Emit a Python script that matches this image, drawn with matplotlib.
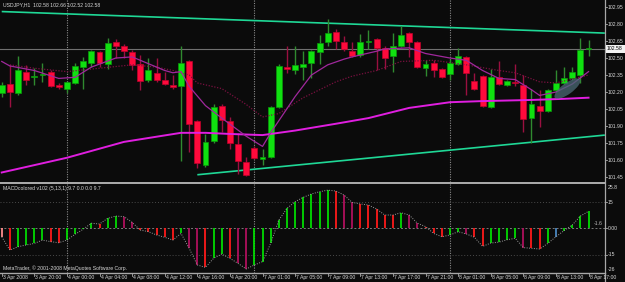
import matplotlib
matplotlib.use("Agg")
import matplotlib.pyplot as plt
import matplotlib.transforms as mtransforms
from matplotlib.patches import Ellipse, Rectangle
from matplotlib.lines import Line2D
import numpy as np

# ---------------- data ----------------
symbol_title = "USDJPY,H1  102.58 102.66 102.52 102.58"
macd_title = "MACDcolored v102 (5,13,1) 9.7 0.0 0.0 9.7"
copyright_text = "MetaTrader, \u00a9 2001-2008 MetaQuotes Software Corp."

opens = [102.19, 102.27, 102.19, 102.38, 102.33, 102.35, 102.38, 102.26, 102.23, 102.28,
         102.42, 102.46, 102.55, 102.45, 102.64, 102.61, 102.55, 102.45, 102.31, 102.37,
         102.31, 102.26, 102.25, 102.47, 101.94, 101.56, 101.77, 102.08, 101.94, 101.74,
         101.58, 101.71, 101.61, 101.63, 102.07, 102.42, 102.39, 102.42, 102.46, 102.55,
         102.64, 102.73, 102.64, 102.56, 102.53, 102.64, 102.67, 102.59, 102.52, 102.61,
         102.72, 102.64, 102.41, 102.46, 102.40, 102.36, 102.45, 102.51, 102.30, 102.34,
         102.07, 102.33, 102.26, 102.29, 102.26, 101.97, 102.08, 102.03, 102.22, 102.28,
         102.32, 102.35, 102.58]
highs = [102.29, 102.44, 102.52, 102.44, 102.41, 102.46, 102.39, 102.28, 102.30, 102.46,
         102.51, 102.57, 102.56, 102.68, 102.67, 102.62, 102.57, 102.53, 102.50, 102.50,
         102.38, 102.35, 102.61, 102.48, 101.95, 101.83, 102.09, 102.09, 101.98, 101.84,
         101.63, 101.72, 101.70, 102.08, 102.45, 102.61, 102.61, 102.56, 102.57, 102.70,
         102.84, 102.76, 102.69, 102.64, 102.71, 102.75, 102.68, 102.61, 102.72, 102.78,
         102.73, 102.65, 102.48, 102.48, 102.41, 102.49, 102.59, 102.52, 102.37, 102.35,
         102.40, 102.47, 102.31, 102.45, 102.35, 102.23, 102.22, 102.23, 102.39, 102.42,
         102.42, 102.68, 102.66]
lows = [102.16, 102.07, 102.17, 102.26, 102.26, 102.29, 102.24, 102.23, 102.19, 102.27,
        102.23, 102.42, 102.42, 102.40, 102.50, 102.50, 102.39, 102.22, 102.29, 102.29,
        102.26, 102.23, 101.59, 101.67, 101.53, 101.54, 101.75, 101.85, 101.70, 101.48,
        101.46, 101.61, 101.56, 101.62, 102.06, 102.37, 102.36, 102.31, 102.32, 102.45,
        102.61, 102.58, 102.56, 102.51, 102.51, 102.58, 102.39, 102.40, 102.38, 102.60,
        102.51, 102.41, 102.34, 102.33, 102.32, 102.31, 102.44, 102.17, 102.22, 102.07,
        102.06, 102.26, 102.25, 102.25, 101.85, 101.75, 101.89, 102.02, 102.20, 102.27,
        102.31, 102.28, 102.52]
closes = [102.26, 102.20, 102.39, 102.31, 102.34, 102.36, 102.25, 102.24, 102.29, 102.43,
          102.47, 102.56, 102.46, 102.63, 102.61, 102.56, 102.44, 102.30, 102.39, 102.31,
          102.27, 102.24, 102.46, 101.92, 101.57, 101.76, 102.07, 101.95, 101.75, 101.59,
          101.47, 101.62, 101.63, 102.07, 102.43, 102.40, 102.44, 102.45, 102.56, 102.63,
          102.72, 102.65, 102.58, 102.52, 102.64, 102.65, 102.59, 102.50, 102.61, 102.70,
          102.64, 102.42, 102.45, 102.39, 102.33, 102.46, 102.52, 102.37, 102.23, 102.08,
          102.33, 102.27, 102.30, 102.28, 101.96, 102.09, 102.03, 102.22, 102.28, 102.32,
          102.38, 102.57, 102.58]

# moving averages (bar index, price)
fast_ma_bars = [0, 1, 4, 7, 9, 11, 14, 16, 18, 20, 21, 22, 23, 25, 27, 30, 32, 33, 36, 38,
                40, 42, 43, 46, 47, 50, 52, 55, 57, 59, 61, 63, 65, 66, 68, 70, 72]
fast_ma_vals = [102.47, 102.43, 102.39, 102.32, 102.33, 102.42, 102.50, 102.51, 102.45, 102.39,
                102.37, 102.38, 102.25, 102.08, 101.97, 101.81, 101.72, 101.84, 102.16, 102.35,
                102.44, 102.49, 102.51, 102.56, 102.58, 102.59, 102.54, 102.50, 102.48, 102.39,
                102.32, 102.31, 102.22, 102.17, 102.20, 102.27, 102.38]
slow_ma_bars = [1, 4, 8, 12, 16, 19, 21, 23, 24, 27, 30, 32, 34, 37, 41, 43, 46, 49, 53, 57,
                61, 63, 66, 68, 72]
slow_ma_vals = [102.44, 102.41, 102.38, 102.41, 102.44, 102.42, 102.39, 102.35, 102.28, 102.23,
                102.09, 101.98, 102.01, 102.15, 102.29, 102.34, 102.39, 102.47, 102.48, 102.44,
                102.39, 102.37, 102.29, 102.28, 102.35]
long_ma_bars = [0, 8, 15, 22, 25, 28, 32, 36, 41, 45, 50, 55, 59, 65, 69, 72]
long_ma_vals = [101.49, 101.62, 101.76, 101.84, 101.84, 101.83, 101.82, 101.86, 101.92, 101.97,
                102.06, 102.11, 102.12, 102.13, 102.14, 102.15]

upper_trend_bars = [0, 74]
upper_trend_prices = [102.91, 102.72]
lower_trend_bars = [24, 74]
lower_trend_prices = [101.47, 101.82]

current_price = 102.58
highlight_bar = 69.4
highlight_price = 102.23

macd_vals = [-4.8, -12.4, -10.5, -9.5, -8.6, -6.7, -7.6, -8.2, -6.7, -3.4,
             -0.5, 2.9, 2.5, 5.7, 7.0, 6.7, 3.4, -1.0, -1.9, -3.8,
             -5.1, -6.7, -2.9, -11.4, -20.9, -22.3, -17.1, -14.7, -17.1, -20.0,
             -23.2, -20.9, -19.0, -8.6, 4.7, 11.4, 15.2, 17.7, 19.6, 20.9,
             21.8, 21.3, 19.0, 14.8, 13.9, 13.3, 11.0, 7.6, 7.6, 8.9,
             7.6, 2.9, 1.0, -2.9, -4.8, -3.8, -1.9, -3.2, -5.1, -10.3,
             -8.4, -7.9, -6.5, -5.7, -11.0, -11.4, -11.8, -8.6, -4.8, -1.3,
             1.9, 7.0, 9.7]
macd_kind = ["p", "r", "g", "g", "g", "g", "r", "r", "g", "g",
             "g", "g", "r", "g", "g", "m", "m", "r", "r", "r",
             "r", "r", "g", "m", "m", "r", "g", "g", "r", "m",
             "m", "g", "g", "g", "g", "g", "g", "g", "g", "g",
             "g", "r", "m", "m", "r", "r", "r", "r", "r", "g",
             "m", "m", "r", "r", "r", "g", "g", "m", "r", "r",
             "g", "g", "g", "g", "m", "r", "r", "g", "b", "g",
             "g", "g", "g"]

time_labels = ["3 Apr 2008", "3 Apr 20:00", "4 Apr 00:00", "4 Apr 04:00", "4 Apr 08:00",
               "4 Apr 12:00", "4 Apr 16:00", "4 Apr 20:00", "7 Apr 01:00", "7 Apr 05:00",
               "7 Apr 09:00", "7 Apr 13:00", "7 Apr 17:00", "7 Apr 21:00", "8 Apr 01:00",
               "8 Apr 05:00", "8 Apr 09:00", "8 Apr 13:00", "8 Apr 17:00"]
time_label_bars = [0, 4, 8, 12, 16, 20, 24, 28, 32, 36, 40, 44, 48, 52, 56, 60, 64, 68, 72]
day_separator_bars = [8, 31, 55]

price_ticks = [102.95, 102.80, 102.65, 102.50, 102.35, 102.20, 102.05, 101.90, 101.75, 101.60, 101.45]
macd_ticks = [15, 0, -15]
macd_tick_labels = ["15", "0.00", "-15"]
macd_top_label, macd_bottom_label = "25.8", "-26"
macd_side_value = "-1.6"

# ---------------- style ----------------
W, H = 625, 282
BG = "#0b0b0b"
TXT = "#d8d8d8"
FS = 3.7
plt.rcParams["font.family"] = ["Liberation Sans", "DejaVu Sans"]

fig = plt.figure(figsize=(W / 100, H / 100), dpi=100, facecolor=BG)

def fy(y):
    return 1 - y / H

PLOT_R = 605
price_top, price_bot = 0, 181.7
macd_top, macd_bot = 184.0, 272.5

ax = fig.add_axes([0, fy(price_bot), PLOT_R / W, (price_bot - price_top) / H])
axm = fig.add_axes([0, fy(macd_bot), PLOT_R / W, (macd_bot - macd_top) / H])
for a in (ax, axm):
    a.set_facecolor(BG)
    for s in a.spines.values():
        s.set_visible(False)
    a.set_xticks([])
    a.set_yticks([])
    a.set_xlim(-0.21, 74.02)

ax.set_ylim(101.4087, 103.012)
axm.set_ylim(-25.2, 25.3)

n = len(closes)
idx = np.arange(n)
o = np.array(opens); c = np.array(closes); hi = np.array(highs); lo = np.array(lows)
up = c >= o

# trend lines
tl_col = "#1fd896"
ax.plot(upper_trend_bars, upper_trend_prices, color=tl_col, lw=1.2, zorder=2, solid_capstyle="butt")
ax.plot(lower_trend_bars, lower_trend_prices, color=tl_col, lw=1.2, zorder=2, solid_capstyle="butt")

# current price line
ax.axhline(current_price, color="#707070", lw=0.8, zorder=1)

# day separators
for a in (ax, axm):
    for b in day_separator_bars:
        a.axvline(b, color="#8a8a8a", lw=0.8, ls=(0, (1, 1.2)), zorder=1)

# candles
g_body, g_edge, g_wick = "#10e010", "#0a9a0a", "#2f8a2f"
r_body, r_edge, r_wick = "#ff0a3c", "#c0002a", "#9a1040"
ax.vlines(idx[up], lo[up], hi[up], color=g_wick, lw=1.0, zorder=3)
ax.vlines(idx[~up], lo[~up], hi[~up], color=r_wick, lw=1.0, zorder=3)
body_h = np.maximum(np.abs(c - o), 0.006)
body_b = np.minimum(o, c)
ax.bar(idx[up], body_h[up], bottom=body_b[up], width=0.72, color=g_body, edgecolor=g_edge, lw=0.5, zorder=4)
ax.bar(idx[~up], body_h[~up], bottom=body_b[~up], width=0.72, color=r_body, edgecolor=r_edge, lw=0.5, zorder=4)

# moving averages
ax.plot(long_ma_bars, long_ma_vals, color="#e01ee0", lw=1.4, zorder=5)
ax.plot(slow_ma_bars, slow_ma_vals, color="#7a1040", lw=0.9, ls=(0, (1, 1.3)), zorder=5)
ax.plot(fast_ma_bars, fast_ma_vals, color="#a0289c", lw=0.9, zorder=5)

# highlight ellipse
fig.canvas.draw()
cx, cy = ax.transData.transform((highlight_bar, highlight_price))
ell = Ellipse((cx, cy), 31, 11, angle=36, facecolor="#4a6a76", edgecolor="none", alpha=0.75,
              transform=mtransforms.IdentityTransform(), zorder=6)
fig.add_artist(ell)

# MACD histogram
kind_col = {"g": "#00dc00", "r": "#ff1a1a", "m": "#b0105c", "p": "#ff8c8c", "b": "#4a86c0"}
mv = np.array(macd_vals)
axm.vlines(idx, 0, mv, colors=[kind_col[k] for k in macd_kind], lw=1.3, zorder=3)
axm.plot(idx, mv, color="#9a9a9a", lw=0.7, ls=(0, (1, 1.5)), zorder=4)
axm.axhline(0, color="#7a7a7a", lw=0.7, ls=(0, (2, 2)), zorder=1)
for v in (15, -15):
    axm.axhline(v, color="#4a4a4a", lw=0.7, ls=(0, (1, 2)), zorder=1)

# frame lines and separator
fig.add_artist(Rectangle((0, fy(183.6)), PLOT_R / W, 2.0 / H, transform=fig.transFigure,
                         facecolor="#a8a8a8", edgecolor="none"))
fig.add_artist(Line2D([0, PLOT_R / W], [fy(macd_bot), fy(macd_bot)], transform=fig.transFigure,
                      color="#a8a8a8", lw=1.0))
fig.add_artist(Line2D([PLOT_R / W, PLOT_R / W], [1, 0], transform=fig.transFigure,
                      color="#a8a8a8", lw=0.9))

# right axis labels - price
for p in price_ticks:
    y = ax.transData.transform((0, p))[1]
    yf = y / H
    fig.text(607.5 / W, yf, f"{p:.2f}", color=TXT, fontsize=FS, va="center", ha="left")
    fig.add_artist(Line2D([PLOT_R / W, 607 / W], [yf, yf], transform=fig.transFigure, color="#a8a8a8", lw=0.6))
ycur = ax.transData.transform((0, current_price))[1] / H
fig.add_artist(Rectangle((606 / W, ycur - 3.6 / H), 19 / W, 7.2 / H, transform=fig.transFigure,
                         facecolor="#f2f2f2", edgecolor="none", zorder=5))
fig.text(607 / W, ycur, f"{current_price:.2f}", color="#000000", fontsize=FS, va="center", ha="left", zorder=6)

# right axis labels - MACD
for v, lab in zip(macd_ticks, macd_tick_labels):
    yf = axm.transData.transform((0, v))[1] / H
    fig.text(608 / W, yf, lab, color=TXT, fontsize=FS, va="center", ha="left")
    fig.add_artist(Line2D([PLOT_R / W, 607 / W], [yf, yf], transform=fig.transFigure, color="#a8a8a8", lw=0.6))
fig.text(608 / W, fy(187.5), macd_top_label, color=TXT, fontsize=FS, va="center", ha="left")
fig.text(608 / W, fy(269.5), macd_bottom_label, color=TXT, fontsize=FS, va="center", ha="left")
yf0 = axm.transData.transform((0, 0))[1] / H
fig.text(594 / W, yf0 + 4.5 / H, macd_side_value, color="#bbbbbb", fontsize=FS, va="center", ha="left")

# time labels
for b, lab in zip(time_label_bars, time_labels):
    x = ax.transData.transform((b, 0))[0]
    fig.text((x + 1) / W, fy(277.8), lab, color=TXT, fontsize=FS, va="center", ha="left")
    fig.add_artist(Line2D([x / W, x / W], [fy(macd_bot), fy(275.5)], transform=fig.transFigure, color="#a8a8a8", lw=0.6))

# titles
fig.text(3 / W, fy(5), symbol_title, color=TXT, fontsize=FS, va="center", ha="left")
fig.text(3 / W, fy(188.5), macd_title, color=TXT, fontsize=FS, va="center", ha="left")
fig.text(3 / W, fy(268.5), copyright_text, color=TXT, fontsize=FS, va="center", ha="left")

fig.savefig("out.png", dpi=100, facecolor=BG)
